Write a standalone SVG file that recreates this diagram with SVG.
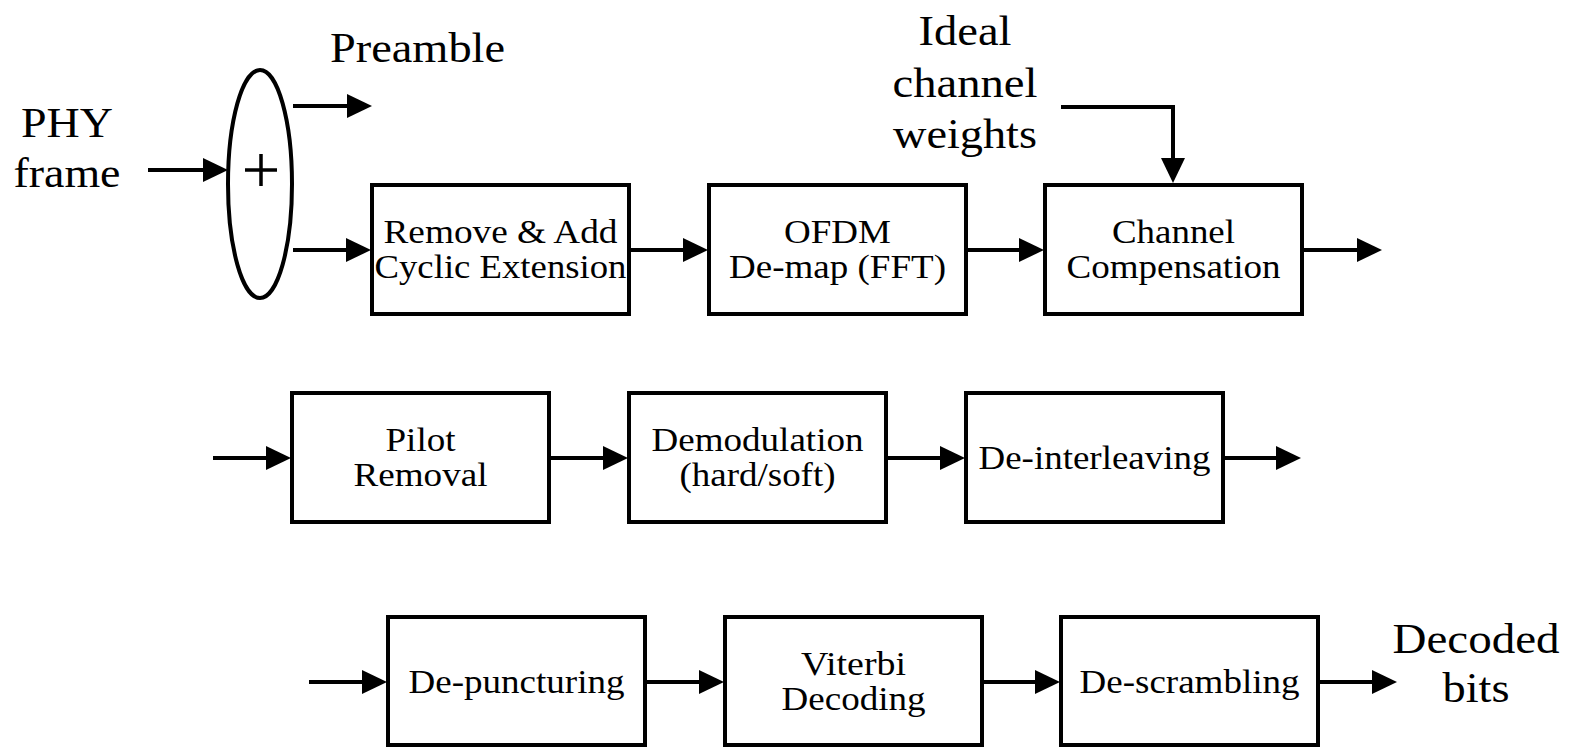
<svg xmlns="http://www.w3.org/2000/svg" width="1574" height="748" viewBox="0 0 1574 748">
  <style>
    .blk { fill: #fff; stroke: #000; stroke-width: 4; }
    .wire { fill: none; stroke: #000; stroke-width: 4; marker-end: url(#head); }
    text { font-family: 'Liberation Serif', 'DejaVu Serif', serif; font-stretch: condensed; fill: #000; }
    .lbl { font-size: 34px; text-anchor: middle; }
    .big { font-size: 42px; }
  </style>
  <defs>
    <marker id="head" viewBox="0 0 25 24" markerWidth="25" markerHeight="24" refX="5" refY="12" markerUnits="userSpaceOnUse" orient="auto">
      <path d="M0,0 L25,12 L0,24 Z" fill="#000"/>
    </marker>
  </defs>
  <rect width="1574" height="748" fill="#fff"/>

  <!-- free-standing labels -->
  <g id="phy-frame">
    <text class="big" x="67" y="137" text-anchor="middle" textLength="92" lengthAdjust="spacingAndGlyphs">PHY</text>
    <text class="big" x="67" y="187" text-anchor="middle" textLength="107" lengthAdjust="spacingAndGlyphs">frame</text>
  </g>
  <g id="preamble">
    <text class="big" x="330" y="62" textLength="175" lengthAdjust="spacingAndGlyphs">Preamble</text>
  </g>
  <g id="ideal-weights">
    <text class="big" x="965" y="45" text-anchor="middle" textLength="93" lengthAdjust="spacingAndGlyphs">Ideal</text>
    <text class="big" x="965" y="97" text-anchor="middle" textLength="145" lengthAdjust="spacingAndGlyphs">channel</text>
    <text class="big" x="965" y="148" text-anchor="middle" textLength="144" lengthAdjust="spacingAndGlyphs">weights</text>
  </g>
  <g id="decoded-bits">
    <text class="big" x="1476" y="653" text-anchor="middle" textLength="167" lengthAdjust="spacingAndGlyphs">Decoded</text>
    <text class="big" x="1476" y="702" text-anchor="middle" textLength="67" lengthAdjust="spacingAndGlyphs">bits</text>
  </g>

  <!-- splitter -->
  <g id="splitter">
    <ellipse cx="260" cy="184" rx="32" ry="114" fill="#fff" stroke="#000" stroke-width="4"/>
    <path d="M245,170 H277 M261,154 V186" stroke="#000" stroke-width="3.5" fill="none"/>
  </g>

  <!-- row 1 -->
  <g id="cyclic-ext">
    <rect class="blk" x="372" y="185" width="257" height="129"/>
    <text class="lbl" x="500.5" y="243" textLength="234" lengthAdjust="spacingAndGlyphs">Remove &amp; Add</text>
    <text class="lbl" x="500.5" y="278" textLength="252" lengthAdjust="spacingAndGlyphs">Cyclic Extension</text>
  </g>
  <g id="ofdm-demap">
    <rect class="blk" x="709" y="185" width="257" height="129"/>
    <text class="lbl" x="837.5" y="243" textLength="107" lengthAdjust="spacingAndGlyphs">OFDM</text>
    <text class="lbl" x="837.5" y="278" textLength="217" lengthAdjust="spacingAndGlyphs">De-map (FFT)</text>
  </g>
  <g id="channel-comp">
    <rect class="blk" x="1045" y="185" width="257" height="129"/>
    <text class="lbl" x="1173.5" y="243" textLength="123" lengthAdjust="spacingAndGlyphs">Channel</text>
    <text class="lbl" x="1173.5" y="278" textLength="214" lengthAdjust="spacingAndGlyphs">Compensation</text>
  </g>

  <!-- row 2 -->
  <g id="pilot-removal">
    <rect class="blk" x="292" y="393" width="257" height="129"/>
    <text class="lbl" x="420.5" y="451" textLength="70" lengthAdjust="spacingAndGlyphs">Pilot</text>
    <text class="lbl" x="420.5" y="486" textLength="134" lengthAdjust="spacingAndGlyphs">Removal</text>
  </g>
  <g id="demodulation">
    <rect class="blk" x="629" y="393" width="257" height="129"/>
    <text class="lbl" x="757.5" y="451" textLength="212" lengthAdjust="spacingAndGlyphs">Demodulation</text>
    <text class="lbl" x="757.5" y="486" textLength="156" lengthAdjust="spacingAndGlyphs">(hard/soft)</text>
  </g>
  <g id="deinterleaving">
    <rect class="blk" x="966" y="393" width="257" height="129"/>
    <text class="lbl" x="1094.5" y="469" textLength="232" lengthAdjust="spacingAndGlyphs">De-interleaving</text>
  </g>

  <!-- row 3 -->
  <g id="depuncturing">
    <rect class="blk" x="388" y="617" width="257" height="128"/>
    <text class="lbl" x="516.5" y="693" textLength="216" lengthAdjust="spacingAndGlyphs">De-puncturing</text>
  </g>
  <g id="viterbi">
    <rect class="blk" x="725" y="617" width="257" height="128"/>
    <text class="lbl" x="853.5" y="675" textLength="105" lengthAdjust="spacingAndGlyphs">Viterbi</text>
    <text class="lbl" x="853.5" y="710" textLength="144" lengthAdjust="spacingAndGlyphs">Decoding</text>
  </g>
  <g id="descrambling">
    <rect class="blk" x="1061" y="617" width="257" height="128"/>
    <text class="lbl" x="1189.5" y="693" textLength="220" lengthAdjust="spacingAndGlyphs">De-scrambling</text>
  </g>

  <!-- connectors -->
  <g id="connectors">
    <path class="wire" d="M148,170 H208"/>
    <path class="wire" d="M293,106 H352"/>
    <path class="wire" d="M293,250 H351"/>
    <path class="wire" d="M629,250 H688"/>
    <path class="wire" d="M966,250 H1024"/>
    <path class="wire" d="M1302,250 H1362"/>
    <path class="wire" d="M1061,107 H1173 V163"/>
    <path class="wire" d="M213,458 H271"/>
    <path class="wire" d="M549,458 H608"/>
    <path class="wire" d="M886,458 H945"/>
    <path class="wire" d="M1223,458 H1281"/>
    <path class="wire" d="M309,682 H367"/>
    <path class="wire" d="M645,682 H704"/>
    <path class="wire" d="M982,682 H1040"/>
    <path class="wire" d="M1318,682 H1377"/>
  </g>
</svg>
